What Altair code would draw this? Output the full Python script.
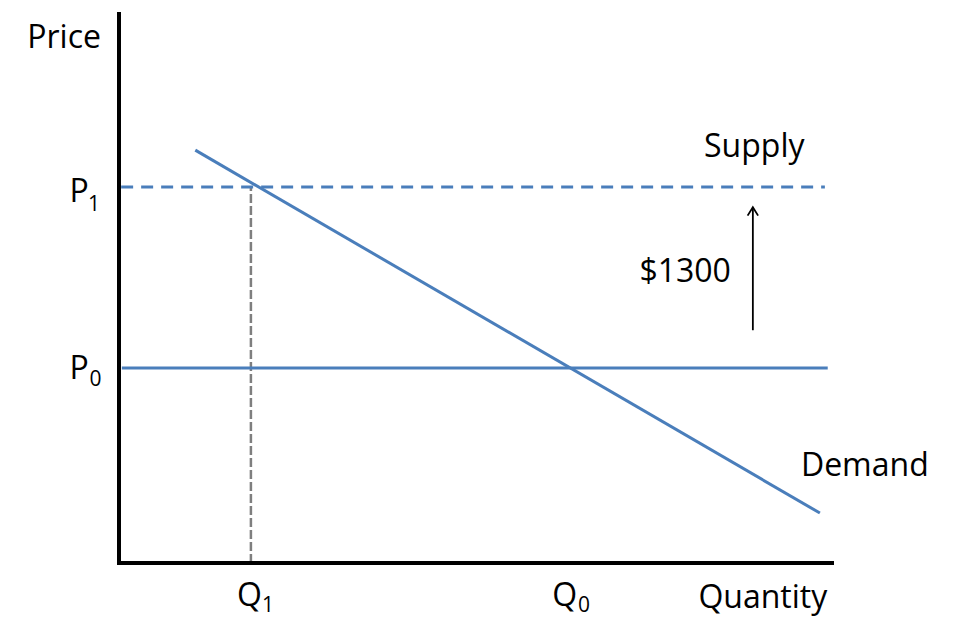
import altair as alt
import pandas as pd

# ---- data (abstract units: quantity 0..100, price 0..100) ----
q_domain = [0, 100]
p_domain = [0, 100]

p0 = 35.5
p1 = 68.5
q1 = 18.5
q0 = 63.0

supply_old_q = [0.4, 99.4]          # original supply at P0 (solid)
supply_new_q = [0.3, 99.0]          # shifted supply at P1 (dashed)
demand_q = [10.7, 98.3]
demand_p = [75.2, 9.1]

arrow_q = 88.9
arrow_p = [42.4, 64.8]

# labels: text, q, p
main_labels = ["Price", "Quantity", "Supply", "$1300", "Demand"]
main_q = [-7.7, 90.3, 89.1, 79.4, 104.6]
main_p = [95.6, -6.3, 75.8, 53.0, 17.7]

letter_labels = ["P", "P", "Q", "Q"]
letter_q = [-5.6, -5.6, 18.3, 62.5]
letter_p = [67.6, 35.3, -6.1, -6.1]

sub_labels = ["1", "0", "1", "0"]
sub_q = [-3.5, -3.3, 20.9, 65.2]
sub_p = [65.2, 33.4, -7.8, -7.8]

BLUE = "#4A7EBB"
GRAY = "#7F7F7F"
FONT = "Open Sans"

xs = alt.Scale(domain=q_domain, nice=False, zero=False)
ys = alt.Scale(domain=p_domain, nice=False, zero=False)

def seg(qa, pa, qb, pb):
    return pd.DataFrame({"q": [qa], "p": [pa], "q2": [qb], "p2": [pb]})

def rule(df, color, width, dash=None, cap="butt"):
    kw = dict(color=color, strokeWidth=width, strokeCap=cap)
    if dash:
        kw["strokeDash"] = dash
    return alt.Chart(df).mark_rule(**kw).encode(
        x=alt.X("q:Q", scale=xs, axis=None),
        y=alt.Y("p:Q", scale=ys, axis=None),
        x2="q2:Q", y2="p2:Q",
    )

axes = rule(pd.DataFrame({"q": [q_domain[0], q_domain[0]], "p": [p_domain[0], p_domain[0]],
                          "q2": [q_domain[0], q_domain[1]], "p2": [p_domain[1], p_domain[0]]}),
            "black", 4, cap="square")

p0_line = rule(seg(supply_old_q[0], p0, supply_old_q[1], p0), BLUE, 3)
p1_line = rule(seg(supply_new_q[0], p1, supply_new_q[1], p1), BLUE, 3, dash=[12, 8])
demand = rule(seg(demand_q[0], demand_p[0], demand_q[1], demand_p[1]), BLUE, 3)
q1_line = rule(seg(q1, 0, q1, p1), GRAY, 2.5, dash=[9, 3])
arrow_shaft = rule(seg(arrow_q, arrow_p[0], arrow_q, arrow_p[1]), "black", 1.8)

arrow_head = alt.Chart(pd.DataFrame({"q": [arrow_q], "p": [arrow_p[1]]})).mark_point(
    shape="M-1,1.6L0,0L1,1.6", size=110, filled=False, color="black", strokeWidth=1.8, opacity=1
).encode(x=alt.X("q:Q", scale=xs, axis=None), y=alt.Y("p:Q", scale=ys, axis=None))

def texts(labels, qs, ps, size):
    df = pd.DataFrame({"t": labels, "q": qs, "p": ps})
    return alt.Chart(df).mark_text(
        font=FONT, fontSize=size, color="black", align="center", baseline="middle"
    ).encode(
        x=alt.X("q:Q", scale=xs, axis=None),
        y=alt.Y("p:Q", scale=ys, axis=None),
        text="t:N",
    )

main_text = texts(main_labels, main_q, main_p, 32)
letter_text = texts(letter_labels, letter_q, letter_p, 32)
sub_text = texts(sub_labels, sub_q, sub_p, 21)

chart = alt.layer(
    q1_line, p0_line, p1_line, demand, axes, arrow_shaft, arrow_head,
    main_text, letter_text, sub_text
).properties(
    width=713, height=549,
    background="white",
    autosize=alt.AutoSizeParams(type="none"),
    padding={"left": 111, "top": 6, "right": 113, "bottom": 54},
).configure_view(stroke=None)

chart.save("out.html", embed_options={"renderer": "svg", "actions": False})
